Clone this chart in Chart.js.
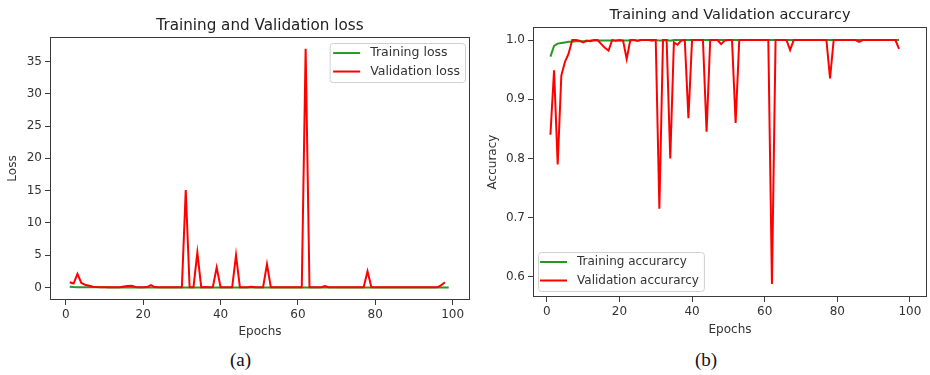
<!DOCTYPE html>
<html>
<head>
<meta charset="utf-8">
<script src="https://cdn.jsdelivr.net/npm/chart.js@4.4.0/dist/chart.umd.min.js"></script>
<style>
body { margin: 0; background: #fff; width: 930px; height: 375px; position: relative; overflow: hidden; }
canvas { position: absolute; top: 0; }
#chart_loss { left: 0; }
#chart_acc { left: 472px; }
.caption { position: absolute; top: 349px; font-family: "Liberation Serif", serif; font-size: 19px; color: #111; }
</style>
</head>
<body>
<canvas id="chart_loss" width="472" height="345"></canvas>
<canvas id="chart_acc" width="458" height="345"></canvas>
<div class="caption" style="left:230px">(a)</div>
<div class="caption" style="left:695px">(b)</div>
<script>
// values per epoch, epoch 1 first
var train_loss = [
    0.12, 0.05, 0.03, 0.022, 0.017, 0.014, 0.011, 0.009, 0.008, 0.007,
    0.006, 0.006, 0.005, 0.005, 0.005, 0.004, 0.004, 0.004, 0.004, 0.003,
    0.003, 0.004, 0.003, 0.003, 0.003, 0.002, 0.002, 0.002, 0.003, 0.002,
    0.003, 0.004, 0.003, 0.002, 0.003, 0.002, 0.002, 0.002, 0.002, 0.002,
    0.002, 0.001, 0.002, 0.002, 0.002, 0.001, 0.001, 0.002, 0.001, 0.001,
    0.001, 0.002, 0.002, 0.001, 0.001, 0.001, 0.001, 0.001, 0.001, 0.001,
    0.001, 0.002, 0.002, 0.001, 0.001, 0.001, 0.001, 0.001, 0.001, 0.001,
    0.001, 0.001, 0.001, 0.001, 0.001, 0.001, 0.001, 0.002, 0.001, 0.001,
    0.001, 0.001, 0.001, 0.001, 0.001, 0.001, 0.001, 0.001, 0.001, 0.001,
    0.001, 0.001, 0.001, 0.001, 0.001, 0.001, 0.001, 0.001, 0.001
];
var val_loss = [
    0.8, 0.6, 2.1, 0.7, 0.4, 0.25, 0.1, 0.06, 0.04, 0.03,
    0.03, 0.02, 0.02, 0.04, 0.15, 0.22, 0.25, 0.06, 0.03, 0.03,
    0.06, 0.35, 0.05, 0.02, 0.02, 0.02, 0.01, 0.01, 0.01, 0.02,
    15.1, 0.03, 0.04, 5.4, 0.03, 0.05, 0.02, 0.02, 3.1, 0.02,
    0.01, 0.01, 0.02, 5.0, 0.02, 0.01, 0.02, 0.12, 0.02, 0.01,
    0.02, 3.6, 0.02, 0.01, 0.01, 0.01, 0.01, 0.01, 0.01, 0.01,
    0.02, 37.0, 0.02, 0.01, 0.01, 0.02, 0.2, 0.02, 0.01, 0.01,
    0.01, 0.01, 0.01, 0.01, 0.01, 0.01, 0.03, 2.5, 0.02, 0.01,
    0.01, 0.01, 0.01, 0.01, 0.01, 0.04, 0.01, 0.01, 0.01, 0.01,
    0.01, 0.01, 0.01, 0.01, 0.01, 0.02, 0.3, 0.8
];
var train_acc = [
    0.972, 0.990, 0.994, 0.995, 0.996, 0.997, 0.997, 0.998, 0.998, 0.998,
    0.998, 0.999, 0.999, 0.999, 0.999, 0.999, 0.999, 0.999, 0.999, 0.999,
    0.999, 0.999, 0.999, 1.0, 0.999, 1.0, 1.0, 1.0, 0.999, 1.0,
    0.999, 0.999, 1.0, 0.999, 1.0, 1.0, 1.0, 1.0, 1.0, 1.0,
    1.0, 1.0, 1.0, 1.0, 1.0, 1.0, 1.0, 1.0, 1.0, 1.0,
    1.0, 1.0, 1.0, 1.0, 1.0, 1.0, 1.0, 1.0, 1.0, 1.0,
    1.0, 1.0, 1.0, 1.0, 1.0, 1.0, 1.0, 1.0, 1.0, 1.0,
    1.0, 1.0, 1.0, 1.0, 1.0, 1.0, 1.0, 1.0, 1.0, 1.0,
    1.0, 1.0, 1.0, 1.0, 1.0, 1.0, 1.0, 1.0, 1.0, 1.0,
    1.0, 1.0, 1.0, 1.0, 1.0, 1.0, 1.0
];
var val_acc = [
    0.84, 0.949, 0.79, 0.94, 0.963, 0.977, 1.0, 1.0, 0.999, 0.996,
    0.999, 0.998, 1.0, 1.0, 0.993, 0.987, 0.982, 1.0, 0.999, 1.0,
    0.999, 0.968, 1.0, 1.0, 0.999, 1.0, 1.0, 1.0, 1.0, 1.0,
    0.715, 1.0, 1.0, 0.80, 0.996, 0.992, 0.999, 1.0, 0.868, 1.0,
    1.0, 1.0, 1.0, 0.845, 1.0, 1.0, 1.0, 0.993, 0.999, 1.0,
    1.0, 0.86, 1.0, 1.0, 1.0, 1.0, 1.0, 1.0, 1.0, 1.0,
    1.0, 0.588, 1.0, 1.0, 1.0, 1.0, 0.983, 1.0, 1.0, 1.0,
    1.0, 1.0, 1.0, 1.0, 1.0, 1.0, 1.0, 0.935, 1.0, 1.0,
    1.0, 1.0, 1.0, 1.0, 1.0, 0.997, 1.0, 1.0, 1.0, 1.0,
    1.0, 1.0, 1.0, 1.0, 1.0, 1.0, 0.985
];
var epoch_ticks = [0, 20, 40, 60, 80, 100];
var loss_ticks = [0, 5, 10, 15, 20, 25, 30, 35];
var acc_ticks = [0.6, 0.7, 0.8, 0.9, 1.0];

var font_name = '"DejaVu Sans", sans-serif';
var green = '#249a24';
var red = '#ff0000';

function to_points(values) {
    return values.map(function (v, i) { return { x: i + 1, y: v }; });
}

// full box around the plot, like matplotlib spines
var frame_plugin = {
    id: 'frame',
    afterDatasetsDraw: function (chart) {
        var a = chart.chartArea, ctx = chart.ctx;
        ctx.save();
        ctx.strokeStyle = '#3a3a3a';
        ctx.lineWidth = 1;
        ctx.strokeRect(Math.round(a.left) + 0.5, Math.round(a.top) + 0.5,
            Math.round(a.right - a.left) - 1, Math.round(a.bottom - a.top) - 1);
        ctx.restore();
    }
};

// legend box drawn inside the plot area
var box_legend_plugin = {
    id: 'box_legend',
    afterDraw: function (chart, args, opts) {
        var ctx = chart.ctx, a = chart.chartArea;
        var sets = chart.data.datasets;
        ctx.save();
        ctx.font = opts.size + 'px ' + font_name;
        var text_w = 0;
        sets.forEach(function (d) { text_w = Math.max(text_w, ctx.measureText(d.label).width); });
        var w = opts.pad + 27 + 10 + text_w + 5;
        var h = 39;
        var x = opts.corner === 'ne' ? a.right - 5 - w : a.left + 5;
        var y = opts.corner === 'ne' ? a.top + 6 : a.bottom - 6 - h;
        ctx.beginPath();
        ctx.roundRect(x + 0.5, y + 0.5, w, h, 3);
        ctx.fillStyle = 'rgba(255,255,255,0.85)';
        ctx.fill();
        ctx.strokeStyle = '#d0d0d0';
        ctx.lineWidth = 1;
        ctx.stroke();
        sets.forEach(function (d, i) {
            var row_y = y + 10 + i * 18.5;
            ctx.beginPath();
            ctx.moveTo(x + opts.pad, row_y);
            ctx.lineTo(x + opts.pad + 27, row_y);
            ctx.strokeStyle = d.borderColor;
            ctx.lineWidth = 2;
            ctx.stroke();
            ctx.fillStyle = '#333';
            ctx.textBaseline = 'middle';
            ctx.fillText(d.label, x + opts.pad + 37, row_y);
        });
        ctx.restore();
    }
};

function make_chart(el_id, cfg) {
    var tick_font = { family: font_name, size: 12 };
    new Chart(document.getElementById(el_id), {
        type: 'line',
        data: {
            datasets: [{
                label: cfg.labels[0],
                data: to_points(cfg.train),
                borderColor: green,
                borderWidth: 2,
                pointRadius: 0,
                tension: 0,
                order: 2
            }, {
                label: cfg.labels[1],
                data: to_points(cfg.val),
                borderColor: red,
                borderWidth: 2,
                pointRadius: 0,
                tension: 0,
                order: 1
            }]
        },
        options: {
            responsive: false,
            animation: false,
            layout: { padding: cfg.padding },
            plugins: {
                legend: { display: false },
                tooltip: { enabled: false },
                title: {
                    display: true,
                    fullSize: false,
                    text: cfg.title,
                    color: '#222',
                    font: { family: font_name, size: cfg.title_size, weight: 'normal' },
                    padding: cfg.title_padding
                },
                box_legend: cfg.legend
            },
            scales: {
                x: {
                    type: 'linear',
                    min: cfg.x_range[0],
                    max: cfg.x_range[1],
                    border: { display: false },
                    grid: { drawOnChartArea: false, tickLength: 5, tickColor: '#3a3a3a' },
                    afterBuildTicks: function (s) { s.ticks = epoch_ticks.map(function (v) { return { value: v }; }); },
                    ticks: { color: '#333', font: tick_font, padding: 3, maxRotation: 0 },
                    title: { display: true, text: 'Epochs', color: '#333', font: tick_font, padding: 0 },
                    afterFit: function (s) { s.height = cfg.x_height; }
                },
                y: {
                    type: 'linear',
                    min: cfg.y_range[0],
                    max: cfg.y_range[1],
                    border: { display: false },
                    grid: { drawOnChartArea: false, tickLength: 5, tickColor: '#3a3a3a' },
                    afterBuildTicks: function (s) { s.ticks = cfg.y_ticks.map(function (v) { return { value: v }; }); },
                    ticks: { color: '#333', font: tick_font, padding: 3, callback: cfg.y_format },
                    title: { display: true, text: cfg.y_title, color: '#333', font: tick_font, padding: 0 },
                    afterFit: function (s) { s.width = cfg.y_width; }
                }
            }
        },
        plugins: [frame_plugin, box_legend_plugin]
    });
}

make_chart('chart_loss', {
    title: 'Training and Validation loss',
    title_size: 15.2,
    labels: ['Training loss', 'Validation loss'],
    train: train_loss,
    val: val_loss,
    x_range: [-4.1, 104.5],
    y_range: [-1.95, 38.8],
    y_ticks: loss_ticks,
    y_title: 'Loss',
    y_format: function (v) { return String(v); },
    padding: { left: 6, right: 2, top: 0, bottom: 6 },
    title_padding: { top: 16.5, bottom: 2.3 },
    x_height: 39,
    y_width: 44,
    legend: { corner: 'ne', pad: 3.5, size: 12.5 }
});

make_chart('chart_acc', {
    title: 'Training and Validation accurarcy',
    title_size: 14.5,
    labels: ['Training accurarcy', 'Validation accurarcy'],
    train: train_acc,
    val: val_acc,
    x_range: [-3.8, 104.7],
    y_range: [0.566, 1.022],
    y_ticks: acc_ticks,
    y_title: 'Accuracy',
    y_format: function (v) { return v.toFixed(1); },
    padding: { left: 13.5, right: 3, top: 0, bottom: 8 },
    title_padding: { top: 7, bottom: 2.6 },
    x_height: 40,
    y_width: 47.5,
    legend: { corner: 'sw', pad: 2, size: 12 }
});
</script>
</body>
</html>
